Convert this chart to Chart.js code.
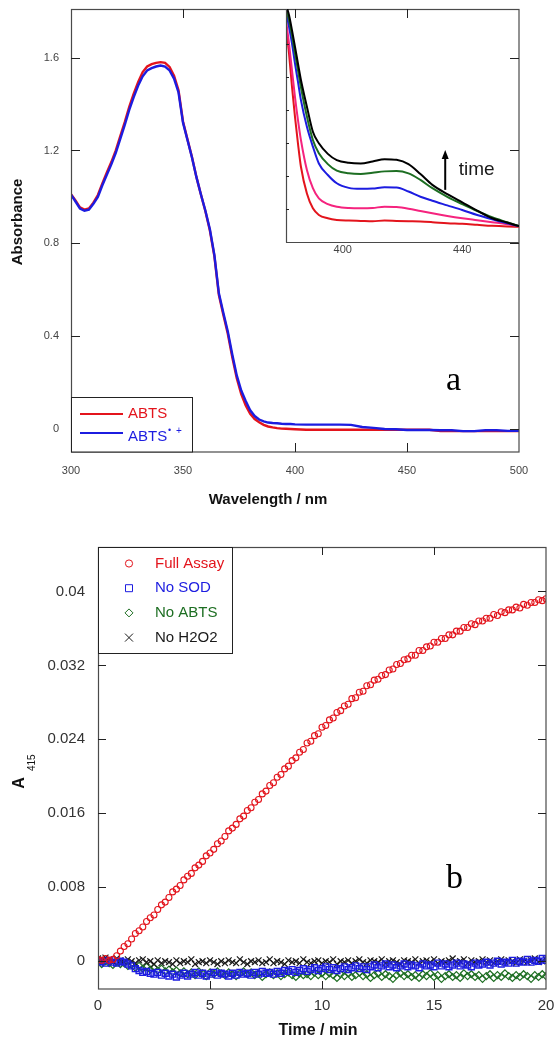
<!DOCTYPE html>
<html>
<head>
<meta charset="utf-8">
<script src="https://cdn.jsdelivr.net/npm/chart.js@4.4.1/dist/chart.umd.min.js"></script>
<style>
  html, body { margin: 0; padding: 0; background: #fff; }
  #wrap { position: relative; width: 554px; height: 1044px; }
  canvas { position: absolute; left: 0; }
  #spectra, #inset { top: 0; }
  #kinetics { top: 510px; }
</style>
</head>
<body>
<div id="wrap">
  <canvas id="spectra" width="554" height="510"></canvas>
  <canvas id="inset" width="554" height="510"></canvas>
  <canvas id="kinetics" width="554" height="534"></canvas>
</div>
<script>
// ---- panel a: UV-vis spectra ----
const wavelengths = [
  300, 302, 304, 306, 308, 310, 312, 314, 316, 318, 320, 322, 324, 326, 328, 330, 332, 334, 336, 338,
  340, 342, 344, 346, 348, 350, 352, 354, 356, 358, 360, 362, 364, 366, 368, 370, 372, 374, 376, 378,
  380, 382, 384, 386, 388, 390, 392, 394, 396, 398, 400, 405, 410, 415, 420, 425, 430, 435, 440, 445,
  450, 455, 460, 465, 470, 475, 480, 485, 490, 495, 500
];
const abtsAbs = [
  1.012, 0.985, 0.955, 0.945, 0.950, 0.975, 1.008, 1.058, 1.105, 1.150, 1.200, 1.262, 1.322, 1.388, 1.445, 1.495, 1.538, 1.562, 1.572, 1.578,
  1.581, 1.578, 1.560, 1.522, 1.460, 1.325, 1.248, 1.172, 1.085, 1.010, 0.938, 0.855, 0.745, 0.578, 0.492, 0.410, 0.308, 0.218, 0.150, 0.100,
  0.065, 0.042, 0.028, 0.017, 0.010, 0.006, 0.003, 0.001, 0.000, -0.001, -0.002, -0.004, -0.004, -0.004, -0.004, -0.004, -0.004, -0.004, -0.004, -0.004,
  -0.004, -0.004, -0.004, -0.010, -0.010, -0.010, -0.010, -0.010, -0.010, -0.010, -0.010
];
const radicalAbs = [
  1.010, 0.980, 0.950, 0.940, 0.945, 0.970, 1.000, 1.050, 1.095, 1.140, 1.190, 1.250, 1.310, 1.375, 1.430, 1.480, 1.520, 1.545, 1.555, 1.562,
  1.566, 1.562, 1.545, 1.510, 1.450, 1.320, 1.245, 1.170, 1.085, 1.010, 0.940, 0.860, 0.750, 0.585, 0.500, 0.420, 0.320, 0.230, 0.165, 0.120,
  0.080, 0.055, 0.040, 0.032, 0.027, 0.025, 0.024, 0.022, 0.021, 0.021, 0.019, 0.018, 0.018, 0.018, 0.018, 0.017, 0.008, 0.004, -0.001, -0.002,
  -0.005, -0.005, -0.005, -0.006, -0.006, -0.010, -0.010, -0.006, -0.006, -0.009, -0.009
];
const spectraXTicks = [300, 350, 400, 450, 500];
const spectraYTicks = [0, 0.4, 0.8, 1.2, 1.6];

// inset: growth of the 415 nm band with time
const insetWavelengths = [381, 382, 383, 384, 385, 386, 388, 390, 392, 395, 398, 402, 406, 410, 414, 418, 422, 426, 430, 435, 440, 445, 450, 455, 459];
const scanRed   = [0.0653, 0.0572, 0.0471, 0.0380, 0.0299, 0.0228, 0.0147, 0.0102, 0.0082, 0.0072, 0.0067, 0.0065, 0.0064, 0.0063, 0.0065, 0.0064, 0.0063, 0.0062, 0.0060, 0.0057, 0.0055, 0.0052, 0.0049, 0.0047, 0.0046];
const scanPink  = [0.0673, 0.0602, 0.0521, 0.0440, 0.0370, 0.0309, 0.0218, 0.0163, 0.0132, 0.0115, 0.0107, 0.0103, 0.0102, 0.0103, 0.0107, 0.0106, 0.0101, 0.0094, 0.0087, 0.0079, 0.0072, 0.0066, 0.0060, 0.0054, 0.0048];
const scanBlue  = [0.0698, 0.0653, 0.0602, 0.0541, 0.0486, 0.0430, 0.0349, 0.0289, 0.0238, 0.0203, 0.0178, 0.0164, 0.0161, 0.0162, 0.0166, 0.0165, 0.0153, 0.0137, 0.0125, 0.0111, 0.0097, 0.0082, 0.0069, 0.0057, 0.0048];
const scanGreen = [0.0708, 0.0673, 0.0627, 0.0572, 0.0521, 0.0469, 0.0380, 0.0309, 0.0269, 0.0236, 0.0216, 0.0208, 0.0206, 0.0210, 0.0214, 0.0215, 0.0208, 0.0188, 0.0163, 0.0137, 0.0115, 0.0094, 0.0075, 0.0060, 0.0048];
const scanBlack = [0.0718, 0.0688, 0.0642, 0.0592, 0.0541, 0.0491, 0.0410, 0.0334, 0.0299, 0.0267, 0.0248, 0.0240, 0.0238, 0.0244, 0.0251, 0.0249, 0.0236, 0.0206, 0.0173, 0.0145, 0.0120, 0.0095, 0.0072, 0.0059, 0.0048];
const insetXTicks = [400, 440];
const insetYTicks = [0.01, 0.02, 0.03, 0.04, 0.05, 0.06];

// ---- panel b: A415 kinetics, one reading every 10 s ----
const timeSec = [
  0, 10, 20, 30, 40, 50, 60, 70, 80, 90, 100, 110,
  120, 130, 140, 150, 160, 170, 180, 190, 200, 210, 220, 230,
  240, 250, 260, 270, 280, 290, 300, 310, 320, 330, 340, 350,
  360, 370, 380, 390, 400, 410, 420, 430, 440, 450, 460, 470,
  480, 490, 500, 510, 520, 530, 540, 550, 560, 570, 580, 590,
  600, 610, 620, 630, 640, 650, 660, 670, 680, 690, 700, 710,
  720, 730, 740, 750, 760, 770, 780, 790, 800, 810, 820, 830,
  840, 850, 860, 870, 880, 890, 900, 910, 920, 930, 940, 950,
  960, 970, 980, 990, 1000, 1010, 1020, 1030, 1040, 1050, 1060, 1070,
  1080, 1090, 1100, 1110, 1120, 1130, 1140, 1150, 1160, 1170, 1180, 1190,
  1200
];
const fullAssay = [
  0.0002, 0.0001, 0.0003, 0.0001, 0.0002, 0.0006, 0.0011, 0.0016, 0.0019, 0.0024,
  0.0030, 0.0033, 0.0037, 0.0043, 0.0047, 0.0050, 0.0056, 0.0061, 0.0064, 0.0069,
  0.0075, 0.0078, 0.0082, 0.0088, 0.0092, 0.0095, 0.0101, 0.0104, 0.0108, 0.0114,
  0.0117, 0.0121, 0.0127, 0.0130, 0.0135, 0.0141, 0.0144, 0.0148, 0.0154, 0.0157,
  0.0163, 0.0166, 0.0172, 0.0175, 0.0181, 0.0184, 0.0190, 0.0193, 0.0199, 0.0202,
  0.0208, 0.0211, 0.0217, 0.0220, 0.0226, 0.0229, 0.0236, 0.0238, 0.0244, 0.0246,
  0.0253, 0.0255, 0.0261, 0.0263, 0.0269, 0.0271, 0.0276, 0.0278, 0.0284, 0.0285,
  0.0291, 0.0292, 0.0298, 0.0299, 0.0304, 0.0305, 0.0309, 0.0310, 0.0315, 0.0316,
  0.0321, 0.0322, 0.0326, 0.0327, 0.0331, 0.0331, 0.0336, 0.0336, 0.0340, 0.0341,
  0.0345, 0.0345, 0.0349, 0.0349, 0.0353, 0.0353, 0.0357, 0.0357, 0.0361, 0.0361,
  0.0365, 0.0364, 0.0368, 0.0368, 0.0371, 0.0371, 0.0375, 0.0374, 0.0378, 0.0377,
  0.0380, 0.0380, 0.0383, 0.0382, 0.0386, 0.0385, 0.0388, 0.0388, 0.0391, 0.0390,
  0.0392
];
const noSod = [
  -0.0001, 0.0000, -0.0002, 0.0001, -0.0001, -0.0002, 0.0000, -0.0001, -0.0003,
  -0.0005, -0.0008, -0.0010, -0.0012, -0.0011, -0.0013,
  -0.0014, -0.0012, -0.0015, -0.0013, -0.0016, -0.0014, -0.0017, -0.0015, -0.0013, -0.0016,
  -0.0014, -0.0012, -0.0015, -0.0013, -0.0016, -0.0014, -0.0012, -0.0015, -0.0013, -0.0014,
  -0.0016, -0.0013, -0.0015, -0.0012, -0.0014, -0.0013, -0.0015, -0.0012, -0.0014, -0.0011,
  -0.0013, -0.0012, -0.0014, -0.0011, -0.0013, -0.0010,
  -0.0011, -0.0009, -0.0012, -0.0010, -0.0008, -0.0011, -0.0009, -0.0007, -0.0010, -0.0008,
  -0.0006, -0.0009, -0.0007, -0.0010, -0.0008, -0.0006, -0.0009, -0.0007, -0.0005, -0.0008,
  -0.0006, -0.0009,
  -0.0006, -0.0004, -0.0007, -0.0005, -0.0003, -0.0006, -0.0004, -0.0007, -0.0005, -0.0003,
  -0.0006, -0.0004, -0.0005, -0.0007, -0.0003, -0.0005, -0.0004, -0.0006, -0.0002, -0.0005,
  -0.0003, -0.0006, -0.0004, -0.0002, -0.0005, -0.0003, -0.0004, -0.0006, -0.0002, -0.0004,
  -0.0003, -0.0001, -0.0004, -0.0002, 0.0000, -0.0003, -0.0001, -0.0002, 0.0001, -0.0002,
  0.0000, -0.0001, 0.0002, -0.0001, 0.0001, 0.0000, 0.0003, 0.0001
];
const noAbts = [
  -0.0001, -0.0003, 0.0000, -0.0002, -0.0004, -0.0001, -0.0003, -0.0002, -0.0005,
  -0.0004, -0.0007, -0.0005, -0.0008, -0.0006, -0.0009, -0.0007, -0.0010, -0.0008, -0.0011, -0.0009, -0.0012,
  -0.0010, -0.0013, -0.0011, -0.0014, -0.0012, -0.0015, -0.0011, -0.0013, -0.0016, -0.0012,
  -0.0014, -0.0011, -0.0013, -0.0015, -0.0012, -0.0014, -0.0016, -0.0013, -0.0011, -0.0014,
  -0.0012, -0.0015, -0.0013, -0.0017, -0.0014, -0.0012, -0.0015, -0.0013, -0.0016, -0.0014,
  -0.0012, -0.0015, -0.0017, -0.0013, -0.0015, -0.0014, -0.0016, -0.0012, -0.0015, -0.0013,
  -0.0016, -0.0013, -0.0015, -0.0018, -0.0014, -0.0016, -0.0013, -0.0017, -0.0015, -0.0012,
  -0.0016, -0.0014, -0.0018, -0.0015, -0.0013, -0.0017, -0.0014, -0.0016, -0.0019, -0.0015,
  -0.0013, -0.0016, -0.0014, -0.0017, -0.0015, -0.0018, -0.0014, -0.0016, -0.0013, -0.0017,
  -0.0015, -0.0019, -0.0016, -0.0014, -0.0017, -0.0015, -0.0018, -0.0013, -0.0016, -0.0014,
  -0.0017, -0.0015, -0.0019, -0.0016, -0.0014, -0.0018, -0.0015, -0.0017, -0.0013, -0.0016,
  -0.0018, -0.0015, -0.0017, -0.0014, -0.0016, -0.0019, -0.0015, -0.0017, -0.0014, -0.0016
];
const noH2o2 = [
  0.0003, 0.0001, 0.0004, 0.0002, 0.0000, 0.0003, 0.0001, -0.0001, 0.0002, 0.0000, -0.0002, 0.0001,
  0.0002, -0.0001, 0.0000, -0.0003, 0.0001, -0.0002, 0.0000, -0.0001, -0.0003, 0.0001, -0.0002, 0.0000,
  -0.0001, 0.0002, -0.0003, -0.0001, 0.0000, -0.0002, 0.0001, -0.0001, -0.0003, 0.0000, -0.0002, 0.0001,
  -0.0001, -0.0002, 0.0002, -0.0001, -0.0003, 0.0000, -0.0001, 0.0001, -0.0002, -0.0001, 0.0002, -0.0002,
  0.0000, -0.0001, -0.0003, 0.0001, -0.0001, 0.0000, -0.0002, 0.0002, -0.0001, -0.0002, 0.0000, 0.0001,
  -0.0002, 0.0000, -0.0001, 0.0002, -0.0003, 0.0000, -0.0001, 0.0001, -0.0002, 0.0000, 0.0002, -0.0001,
  -0.0002, 0.0001, 0.0000, -0.0001, 0.0002, -0.0002, 0.0000, 0.0001, -0.0001, -0.0003, 0.0001, 0.0000,
  -0.0001, 0.0002, -0.0002, 0.0000, 0.0001, -0.0001, 0.0002, -0.0002, 0.0000, -0.0001, 0.0001, 0.0003,
  -0.0001, 0.0000, 0.0002, -0.0002, 0.0001, -0.0001, 0.0000, 0.0002, -0.0001, 0.0001, -0.0002, 0.0000,
  0.0002, -0.0001, 0.0001, 0.0000, -0.0002, 0.0002, 0.0000, -0.0001, 0.0001, 0.0003, -0.0001, 0.0000,
  0.0002
];
const kineticsXTicks = [0, 5, 10, 15, 20];
const kineticsYTicks = [0, 0.008, 0.016, 0.024, 0.032, 0.04];

const SANS = '"Liberation Sans", Arial, sans-serif';
const SERIF = '"Liberation Serif", "Times New Roman", serif';
const RED = '#e3141c';
const BLUE = '#1c1ce0';
const GREEN = '#1d6e22';
const PINK = '#f5237e';

function xy(xs, ys) {
  return xs.map((x, i) => ({ x: x, y: ys[i] }));
}

function fixedTicks(list) {
  return (scale) => { scale.ticks = list.map(v => ({ value: v })); };
}

function line(ctx, x1, y1, x2, y2) {
  ctx.beginPath();
  ctx.moveTo(x1, y1);
  ctx.lineTo(x2, y2);
  ctx.stroke();
}

// box round the plot plus inward tick marks on all four sides
function drawFrame(chart, xTicks, yTicks, len) {
  const { ctx, chartArea: a, scales } = chart;
  ctx.save();
  ctx.strokeStyle = '#4a4a4a';
  ctx.lineWidth = 1.2;
  ctx.strokeRect(a.left + 0.5, a.top + 0.5, a.right - a.left - 0.5, a.bottom - a.top - 0.5);
  ctx.lineWidth = 1;
  ctx.strokeStyle = '#222';
  xTicks.forEach(v => {
    const px = Math.round(scales.x.getPixelForValue(v)) + 0.5;
    if (px < a.left + 2 || px > a.right - 2) return;
    line(ctx, px, a.bottom, px, a.bottom - len);
    line(ctx, px, a.top, px, a.top + len);
  });
  yTicks.forEach(v => {
    const py = Math.round(scales.y.getPixelForValue(v)) + 0.5;
    if (py < a.top + 2 || py > a.bottom - 2) return;
    line(ctx, a.left, py, a.left + len, py);
    line(ctx, a.right, py, a.right - len, py);
  });
  ctx.restore();
}

function rotatedText(ctx, text, x, y, font) {
  ctx.save();
  ctx.translate(x, y);
  ctx.rotate(-Math.PI / 2);
  ctx.font = font;
  ctx.textAlign = 'center';
  ctx.textBaseline = 'middle';
  ctx.fillText(text, 0, 0);
  ctx.restore();
}

const spectraDecor = {
  id: 'spectraDecor',
  afterDraw(chart) {
    const { ctx, chartArea: a } = chart;
    drawFrame(chart, spectraXTicks, spectraYTicks, 9);
    ctx.save();
    ctx.fillStyle = '#111';
    ctx.font = 'bold 15px ' + SANS;
    ctx.textAlign = 'center';
    ctx.textBaseline = 'middle';
    ctx.fillText('Wavelength / nm', 268, 500);
    rotatedText(ctx, 'Absorbance', 18, 222, 'bold 15px ' + SANS);

    // legend box in the lower left corner
    const lx = a.left, ly = 397, lw = 121, lh = a.bottom - 397;
    ctx.fillStyle = '#fff';
    ctx.fillRect(lx, ly, lw, lh);
    ctx.strokeStyle = '#222';
    ctx.lineWidth = 1;
    ctx.strokeRect(lx + 0.5, ly + 0.5, lw, lh - 0.5);
    ctx.lineWidth = 2.2;
    ctx.strokeStyle = RED;
    line(ctx, 80, 414, 123, 414);
    ctx.strokeStyle = BLUE;
    line(ctx, 80, 433, 123, 433);
    ctx.font = '15px ' + SANS;
    ctx.textAlign = 'left';
    ctx.fillStyle = RED;
    ctx.fillText('ABTS', 128, 414);
    ctx.fillStyle = BLUE;
    ctx.fillText('ABTS', 128, 437);
    ctx.font = '9px ' + SANS;
    ctx.fillText('\u2022', 168, 431);
    ctx.font = '10px ' + SANS;
    ctx.fillText('+', 176, 431);

    ctx.fillStyle = '#000';
    ctx.font = '34px ' + SERIF;
    ctx.textBaseline = 'alphabetic';
    ctx.fillText('a', 446, 390);
    ctx.restore();
  }
};

const insetDecor = {
  id: 'insetDecor',
  afterDraw(chart) {
    const { ctx, chartArea: a, scales } = chart;
    ctx.save();
    ctx.strokeStyle = '#4a4a4a';
    ctx.lineWidth = 1.2;
    line(ctx, a.left + 0.5, a.top, a.left + 0.5, a.bottom + 0.5);
    line(ctx, a.left, a.bottom + 0.5, a.right, a.bottom + 0.5);
    ctx.lineWidth = 1;
    ctx.strokeStyle = '#222';
    insetYTicks.forEach(v => {
      const py = Math.round(scales.y.getPixelForValue(v)) + 0.5;
      line(ctx, a.left, py, a.left + 3, py);
    });

    // "time" arrow
    const ax = scales.x.getPixelForValue(434.3);
    const y0 = scales.y.getPixelForValue(0.0158);
    const y1 = scales.y.getPixelForValue(0.0279);
    ctx.strokeStyle = '#000';
    ctx.lineWidth = 2;
    line(ctx, ax, y0, ax, y1 + 6);
    ctx.fillStyle = '#000';
    ctx.beginPath();
    ctx.moveTo(ax, y1);
    ctx.lineTo(ax - 3.5, y1 + 9);
    ctx.lineTo(ax + 3.5, y1 + 9);
    ctx.closePath();
    ctx.fill();
    ctx.font = '19px ' + SANS;
    ctx.textAlign = 'left';
    ctx.textBaseline = 'middle';
    ctx.fillStyle = '#1a1a1a';
    ctx.fillText('time', scales.x.getPixelForValue(438.8), scales.y.getPixelForValue(0.0218));
    ctx.restore();
  }
};

const kineticsDecor = {
  id: 'kineticsDecor',
  afterDraw(chart) {
    const { ctx, chartArea: a } = chart;
    drawFrame(chart, kineticsXTicks, kineticsYTicks, 8);
    ctx.save();
    ctx.fillStyle = '#111';
    ctx.font = 'bold 16px ' + SANS;
    ctx.textAlign = 'center';
    ctx.textBaseline = 'middle';
    ctx.fillText('Time / min', 318, 521);

    // A with subscript 415, reading upwards
    ctx.translate(20, 273);
    ctx.rotate(-Math.PI / 2);
    ctx.font = 'bold 16px ' + SANS;
    ctx.fillText('A', 0, 0);
    ctx.font = '10px ' + SANS;
    ctx.textAlign = 'left';
    ctx.fillText('415', 12, 12);
    ctx.setTransform(1, 0, 0, 1, 0, 0);

    // legend box in the upper left corner
    const lx = a.left, ly = a.top, lw = 134, lh = 106;
    ctx.fillStyle = '#fff';
    ctx.fillRect(lx, ly, lw, lh);
    ctx.strokeStyle = '#222';
    ctx.lineWidth = 1;
    ctx.strokeRect(lx + 0.5, ly + 0.5, lw, lh);
    const rows = [
      { text: 'Full Assay', color: RED, shape: 'circle' },
      { text: 'No SOD', color: BLUE, shape: 'square' },
      { text: 'No ABTS', color: GREEN, shape: 'diamond' },
      { text: 'No H2O2', color: '#1a1a1a', shape: 'cross' }
    ];
    const mx = 129;
    rows.forEach((r, i) => {
      const y = a.top + 16.5 + i * 24.7;
      ctx.strokeStyle = r.color;
      ctx.lineWidth = 1;
      ctx.beginPath();
      if (r.shape === 'circle') {
        ctx.arc(mx, y, 3.6, 0, Math.PI * 2);
      } else if (r.shape === 'square') {
        ctx.rect(mx - 3.5, y - 3.5, 7, 7);
      } else if (r.shape === 'diamond') {
        ctx.moveTo(mx, y - 4); ctx.lineTo(mx + 4, y); ctx.lineTo(mx, y + 4); ctx.lineTo(mx - 4, y); ctx.closePath();
      } else {
        ctx.moveTo(mx - 4, y - 4); ctx.lineTo(mx + 4, y + 4);
        ctx.moveTo(mx + 4, y - 4); ctx.lineTo(mx - 4, y + 4);
      }
      ctx.stroke();
      ctx.fillStyle = r.color;
      ctx.font = '15px ' + SANS;
      ctx.textAlign = 'left';
      ctx.textBaseline = 'middle';
      ctx.fillText(r.text, 155, y);
    });

    ctx.fillStyle = '#000';
    ctx.font = '34px ' + SERIF;
    ctx.textBaseline = 'alphabetic';
    ctx.fillText('b', 446, 378);
    ctx.restore();
  }
};

const common = {
  responsive: false,
  animation: false,
  devicePixelRatio: 1,
  events: [],
  plugins: { legend: { display: false }, tooltip: { enabled: false } }
};

function axis(min, max, ticks, size, color, pad, fitKey, fitVal, extra) {
  return Object.assign({
    type: 'linear',
    min: min,
    max: max,
    afterBuildTicks: fixedTicks(ticks),
    afterFit: (scale) => {
      // fixed box size; edge labels must not push the plot area in
      scale[fitKey] = fitVal;
      scale.paddingLeft = 0;
      scale.paddingRight = 0;
      scale.paddingTop = 0;
      scale.paddingBottom = 0;
    },
    grid: { display: false, drawTicks: false },
    border: { display: false },
    ticks: {
      autoSkip: false,
      maxRotation: 0,
      padding: pad,
      color: color,
      font: { family: SANS, size: size },
      callback: (v) => String(v)
    }
  }, extra || {});
}

new Chart(document.getElementById('spectra'), {
  type: 'line',
  data: {
    datasets: [
      { label: 'ABTS\u2022+', data: xy(wavelengths, radicalAbs), borderColor: BLUE, borderWidth: 2.4, pointRadius: 0, tension: 0 },
      { label: 'ABTS', data: xy(wavelengths, abtsAbs), borderColor: RED, borderWidth: 2.4, pointRadius: 0, tension: 0 }
    ]
  },
  options: Object.assign({}, common, {
    layout: { padding: { left: 0, top: 9, right: 35, bottom: 0 } },
    scales: {
      x: axis(300, 500, spectraXTicks, 11, '#444', 12, 'height', 58),
      y: axis(-0.1, 1.81, spectraYTicks, 11, '#444', 12, 'width', 71)
    }
  }),
  plugins: [spectraDecor]
});

new Chart(document.getElementById('inset'), {
  type: 'line',
  data: {
    datasets: [
      { label: 'scan 5', data: xy(insetWavelengths, scanBlack), borderColor: '#000' },
      { label: 'scan 4', data: xy(insetWavelengths, scanGreen), borderColor: GREEN },
      { label: 'scan 3', data: xy(insetWavelengths, scanBlue), borderColor: BLUE },
      { label: 'scan 2', data: xy(insetWavelengths, scanPink), borderColor: PINK },
      { label: 'scan 1', data: xy(insetWavelengths, scanRed), borderColor: RED }
    ].map(d => Object.assign(d, { borderWidth: 2, pointRadius: 0, cubicInterpolationMode: 'monotone', clip: 0 }))
  },
  options: Object.assign({}, common, {
    layout: { padding: { left: 0, top: 9, right: 35, bottom: 248 } },
    scales: {
      x: axis(381, 459, insetXTicks, 11, '#444', 1, 'height', 20),
      y: axis(0, 0.0706, insetYTicks, 11, '#444', 0, 'width', 286, { ticks: { display: false } })
    }
  }),
  plugins: [insetDecor]
});

function series(label, ys, color, style, radius, stroke) {
  return {
    label: label,
    data: xy(timeSec.map(s => s / 60), ys),
    pointStyle: style,
    pointRadius: radius,
    pointBorderWidth: stroke,
    borderColor: color,
    backgroundColor: 'rgba(0,0,0,0)',
    showLine: false
  };
}

new Chart(document.getElementById('kinetics'), {
  type: 'scatter',
  data: {
    datasets: [
      series('Full Assay', fullAssay, RED, 'circle', 3.0, 1.1),
      series('No SOD', noSod, BLUE, 'rect', 4.2, 1.4),
      series('No H2O2', noH2o2, '#1a1a1a', 'crossRot', 4.2, 1.2),
      series('No ABTS', noAbts, GREEN, 'rectRot', 3.5, 1.2)
    ]
  },
  options: Object.assign({}, common, {
    layout: { padding: { left: 0, top: 37, right: 8, bottom: 0 } },
    scales: {
      x: axis(0, 20, kineticsXTicks, 15, '#333', 8, 'height', 55),
      y: axis(-0.003, 0.0448, kineticsYTicks, 15, '#333', 13, 'width', 98)
    }
  }),
  plugins: [kineticsDecor]
});
</script>
</body>
</html>
